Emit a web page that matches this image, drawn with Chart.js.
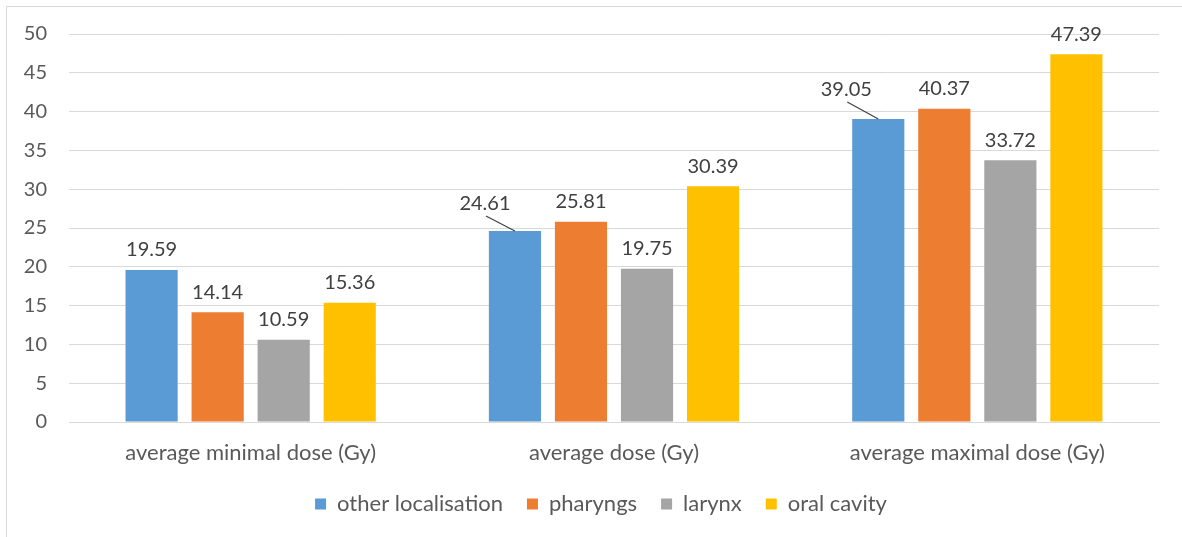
<!DOCTYPE html>
<html>
<head>
<meta charset="utf-8">
<script src="https://cdn.jsdelivr.net/npm/chart.js@4/dist/chart.umd.min.js"></script>
<style>
  html, body { margin: 0; padding: 0; background: #ffffff; }
  #wrap { width: 1182px; height: 537px; position: relative; }
</style>
</head>
<body>
<div id="wrap"><canvas id="c" width="1182" height="537"></canvas></div>
<script>
// Dose categories and per-localisation values (Gy)
const categories = ['average minimal dose (Gy)', 'average dose (Gy)', 'average maximal dose (Gy)'];
const seriesNames = ['other localisation', 'pharyngs', 'larynx', 'oral cavity'];
const otherLocalisation = [19.59, 24.61, 39.05];
const pharyngs = [14.14, 25.81, 40.37];
const larynx = [10.59, 19.75, 33.72];
const oralCavity = [15.36, 30.39, 47.39];
const yTicks = [0, 5, 10, 15, 20, 25, 30, 35, 40, 45, 50];

const colors = ['#5b9bd5', '#ed7d31', '#a5a5a5', '#ffc000'];
const FONT = 'Lato, "Open Sans", sans-serif';

// Labels pulled away from the bar top and joined back with a leader line
const labelShift = { '0:1': [-30, -27], '0:2': [-32, -29] };

const frame = {
  id: 'frame',
  beforeDraw(chart) {
    const ctx = chart.ctx;
    ctx.save();
    ctx.strokeStyle = '#d9d9d9';
    ctx.lineWidth = 1;
    ctx.beginPath();
    ctx.moveTo(6.5, chart.height);
    ctx.lineTo(6.5, 6.5);
    ctx.lineTo(chart.width, 6.5);
    ctx.stroke();
    ctx.restore();
  }
};

// Center the legend row on the whole framed area rather than the padded layout box
const legendShift = {
  id: 'legendShift',
  afterLayout(chart) {
    if (chart.legend) {
      chart.legend.left += 21.5;
      chart.legend.right += 21.5;
    }
  }
};

const valueLabels = {
  id: 'valueLabels',
  afterDatasetsDraw(chart) {
    const ctx = chart.ctx;
    ctx.save();
    ctx.font = '20px ' + FONT;
    ctx.fillStyle = '#404040';
    ctx.textAlign = 'center';
    ctx.textBaseline = 'middle';
    chart.data.datasets.forEach((ds, di) => {
      chart.getDatasetMeta(di).data.forEach((bar, i) => {
        const v = ds.data[i];
        const shift = labelShift[di + ':' + i];
        let x = bar.x, y = bar.y - 20;
        if (shift) {
          x = bar.x + shift[0];
          y = bar.y + shift[1];
          ctx.strokeStyle = '#404040';
          ctx.lineWidth = 1.2;
          ctx.beginPath();
          ctx.moveTo(x + 1, y + 12);
          ctx.lineTo(bar.x, bar.y);
          ctx.stroke();
        }
        ctx.fillText(v.toFixed(2), x, y);
      });
    });
    ctx.restore();
  }
};

new Chart(document.getElementById('c'), {
  type: 'bar',
  data: {
    labels: categories,
    datasets: [otherLocalisation, pharyngs, larynx, oralCavity].map((d, i) => ({
      label: seriesNames[i],
      data: d,
      backgroundColor: colors[i],
      borderWidth: 0,
      categoryPercentage: 0.727,
      barPercentage: 0.79
    }))
  },
  options: {
    responsive: false,
    animation: false,
    devicePixelRatio: 1,
    layout: { padding: { left: 0, top: 34, right: 23, bottom: 12 } },
    plugins: {
      tooltip: { enabled: false },
      legend: {
        position: 'bottom',
        labels: {
          boxWidth: 11,
          boxHeight: 11,
          padding: 24,
          color: '#595959',
          font: { family: FONT, size: 22 }
        }
      }
    },
    scales: {
      x: {
        grid: { display: false, drawTicks: false },
        border: { display: true, color: '#d9d9d9', width: 1 },
        ticks: { color: '#595959', padding: 18, font: { family: FONT, size: 22 }, maxRotation: 0 },
        afterFit(scale) { scale.height = 47; }
      },
      y: {
        min: 0,
        max: 50,
        grid: { color: '#d9d9d9', lineWidth: 1, drawTicks: false },
        border: { display: false },
        afterBuildTicks(scale) { scale.ticks = yTicks.map(v => ({ value: v })); },
        ticks: { color: '#595959', padding: 22, font: { family: FONT, size: 20 } },
        afterFit(scale) { scale.width = 69; }
      }
    }
  },
  plugins: [frame, legendShift, valueLabels]
});
</script>
</body>
</html>
